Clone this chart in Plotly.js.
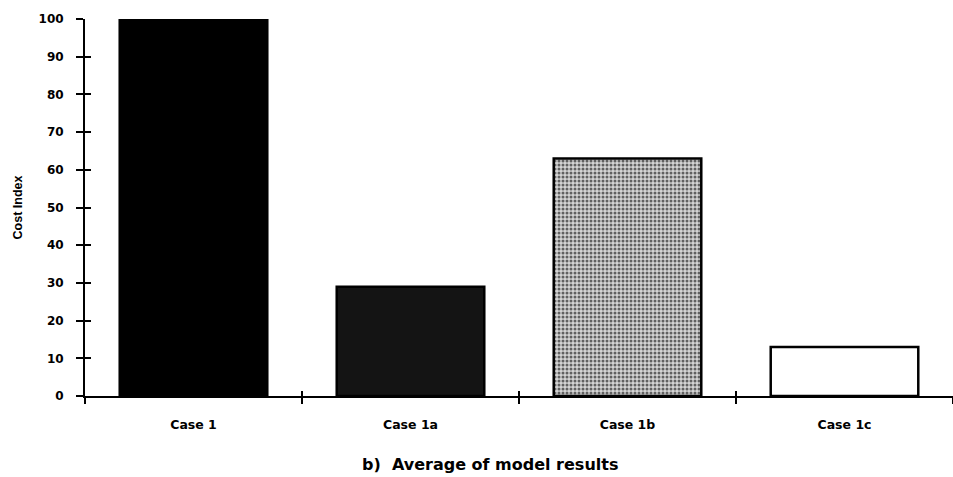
<!DOCTYPE html>
<html>
<head>
<meta charset="utf-8">
<script src="https://cdn.plot.ly/plotly-3.0.1.min.js"></script>
<style>html,body{margin:0;padding:0;background:#fff}#chart{width:953px;height:477px}</style>
</head>
<body>
<div id="chart"></div>
<script>
var categories = ["Case 1", "Case 1a", "Case 1b", "Case 1c"];
var costIndex = [100, 29, 63, 13];
var yTickVals = [0, 10, 20, 30, 40, 50, 60, 70, 80, 90, 100];
var chartCaption = "b)  Average of model results";
var yTitle = "Cost Index";
var barColors = ["#000000", "#141414", "#d4d4d4", "#ffffff"];
var patternShapes = ["", "", ".", ""];
var patternFg = ["#000000", "#000000", "#4a4a4a", "#000000"];
var patternSolidity = [0.3, 0.3, 0.45, 0.3];

var fontFam = "'DejaVu Sans', 'Liberation Sans', Arial, sans-serif";
var fontFam2 = "'Liberation Sans', Arial, sans-serif";

var trace = {
  type: "bar",
  x: categories,
  y: costIndex,
  width: 0.68,
  marker: {
    color: barColors,
    line: {color: "#000", width: 2.5},
    pattern: {shape: patternShapes, fgcolor: patternFg, fillmode: "overlay", size: 4, solidity: patternSolidity, fgopacity: 0.8}
  },
  hoverinfo: "x+y"
};

var layout = {
  width: 953, height: 477,
  margin: {l: 85, r: 0, t: 19, b: 81},
  paper_bgcolor: "#fff", plot_bgcolor: "#fff",
  showlegend: false,
  xaxis: {
    type: "category",
    range: [-0.5, 3.5],
    showline: true, linecolor: "#000", linewidth: 2,
    ticks: "outside", ticklen: 6, tickwidth: 2, tickcolor: "#000",
    tickson: "boundaries",
    showgrid: false, zeroline: false,
    tickfont: {family: fontFam, size: 12.5, color: "#000", weight: "bold"},
    ticklabelstandoff: 16,
    automargin: false
  },
  xaxis2: {
    overlaying: "x", anchor: "y", range: [-0.5, 3.5],
    tickvals: [-0.5, 0.5, 1.5, 2.5, 3.5],
    ticks: "inside", ticklen: 5, tickwidth: 2, tickcolor: "#000",
    showticklabels: false, showgrid: false, zeroline: false, showline: false
  },
  yaxis: {
    range: [0, 100],
    tickvals: yTickVals,
    showline: true, linecolor: "#000", linewidth: 2,
    ticks: "outside", ticklen: 7, tickwidth: 2, tickcolor: "#000",
    showgrid: false, zeroline: false,
    tickfont: {family: fontFam, size: 12, color: "#000", weight: "bold"},
    ticklabelstandoff: 10,
    title: {text: yTitle, font: {family: fontFam2, size: 12.5, color: "#000", weight: "bold"}, standoff: 13},
    automargin: false
  },
  yaxis2: {
    overlaying: "y", anchor: "x", side: "left", range: [0, 100],
    tickvals: yTickVals,
    ticks: "inside", ticklen: 6, tickwidth: 2, tickcolor: "#000",
    showticklabels: false, showgrid: false, zeroline: false, showline: false
  },
  annotations: [{
    text: chartCaption, xref: "paper", yref: "paper", x: 0.4666, y: -0.183,
    xanchor: "center", yanchor: "middle", showarrow: false,
    font: {family: fontFam, size: 16, color: "#000", weight: "bold"}
  }]
};

var helper = {type: "scatter", x: [-0.5, 3.5], y: [0, 0], xaxis: "x2", yaxis: "y2", mode: "none", hoverinfo: "skip", showlegend: false};

Plotly.newPlot("chart", [trace, helper], layout, {displayModeBar: false});
</script>
</body>
</html>
